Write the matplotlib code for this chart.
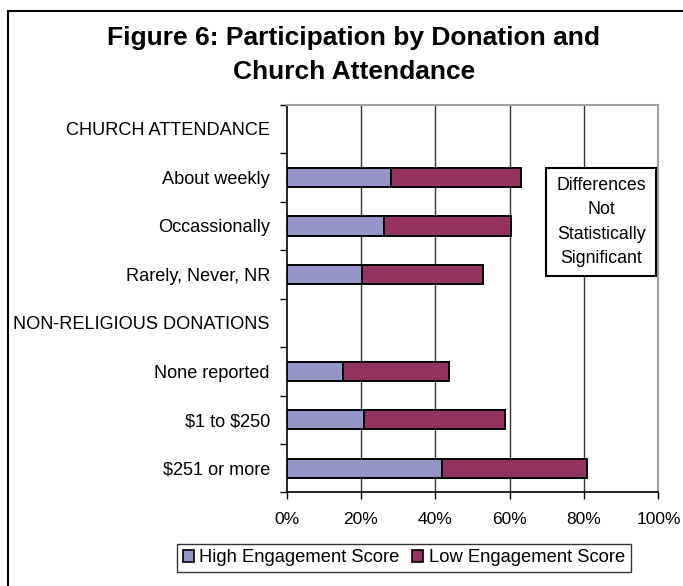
import numpy as np
import matplotlib.pyplot as plt
from matplotlib.lines import Line2D
from matplotlib.patches import Patch, Rectangle

plt.rcParams['font.family'] = ['Liberation Sans', 'DejaVu Sans']

# Chart data
categories = ['CHURCH ATTENDANCE', 'About weekly', 'Occassionally', 'Rarely, Never, NR',
              'NON-RELIGIOUS DONATIONS', 'None reported', '$1 to $250', '$251 or more']
is_header = [True, False, False, False, True, False, False, False]
high_engagement = [0, 28.0, 26.2, 20.4, 0, 15.1, 20.9, 41.9]
low_engagement = [0, 35.1, 34.1, 32.3, 0, 28.6, 37.9, 38.9]
x_ticks = [0, 20, 40, 60, 80, 100]
x_tick_labels = ['0%', '20%', '40%', '60%', '80%', '100%']
series_names = ['High Engagement Score', 'Low Engagement Score']
note_text = 'Differences\nNot\nStatistically\nSignificant'
title_text = 'Figure 6: Participation by Donation and\nChurch Attendance'

blue = '#9595CA'
maroon = '#943360'

fig = plt.figure(figsize=(6.83, 5.86), dpi=100)
ax = fig.add_axes([0.4196, 0.1596, 0.5445, 0.6619])

y = np.arange(len(categories))
mask = ~np.array(is_header)
high = np.array(high_engagement)
low = np.array(low_engagement)

ax.barh(y[mask], high[mask], height=0.40, color=blue, edgecolor='black',
        linewidth=1.4, zorder=3)
ax.barh(y[mask], low[mask], left=high[mask], height=0.40, color=maroon,
        edgecolor='black', linewidth=1.4, zorder=3)

ax.set_xlim(0, 100)
ax.set_ylim(len(categories) - 0.5, -0.5)

ax.set_xticks(x_ticks)
ax.set_xticklabels(x_tick_labels, fontsize=12.5)
ax.set_yticks(y)
ax.set_yticklabels(categories, fontsize=13.1, parse_math=False)
ax.set_yticks(np.arange(len(categories) + 1) - 0.5, minor=True)
ax.tick_params(axis='y', which='major', length=0, pad=12)
ax.tick_params(axis='y', which='minor', length=5, width=1, direction='out')
ax.tick_params(axis='x', length=5, width=1, direction='out', pad=9)

# vertical gridlines
for xv in x_ticks[1:-1]:
    ax.axvline(xv, color='#333333', linewidth=1, zorder=1)

for side in ['top', 'right']:
    ax.spines[side].set_color('#A0A0A0')
    ax.spines[side].set_linewidth(1.5)
for side in ['left', 'bottom']:
    ax.spines[side].set_color('black')
    ax.spines[side].set_linewidth(1.2)

# note box
ax.add_patch(Rectangle((0.697, 0.557), 0.297, 0.2796, transform=ax.transAxes,
                       facecolor='white', edgecolor='black', linewidth=1.5,
                       zorder=5))
ax.text(0.8455, 0.697, note_text, transform=ax.transAxes, fontsize=12.8,
        ha='center', va='center', linespacing=1.58, zorder=6)

fig.text(0.518, 0.9055, title_text, fontsize=19, fontweight='bold',
         ha='center', va='center', linespacing=1.52)

handles = [Patch(facecolor=blue, edgecolor='black', linewidth=1.2),
           Patch(facecolor=maroon, edgecolor='black', linewidth=1.2)]
leg = fig.legend(handles, series_names, loc='center', bbox_to_anchor=(0.5915, 0.0478),
                 ncol=2, fontsize=13.2, frameon=True, fancybox=False,
                 handlelength=0.6, handleheight=0.6, handletextpad=0.3,
                 columnspacing=0.7, borderpad=0.3, borderaxespad=0)
leg.get_frame().set_edgecolor('black')
leg.get_frame().set_linewidth(1.0)

# outer chart border (top and left edges visible)
fig.add_artist(Line2D([8 / 683, 1.0], [1 - 11 / 586, 1 - 11 / 586],
                      transform=fig.transFigure, color='black', linewidth=1.5))
fig.add_artist(Line2D([8 / 683, 8 / 683], [0.0, 1 - 11 / 586],
                      transform=fig.transFigure, color='black', linewidth=1.5))

fig.savefig('out.png', dpi=100)
